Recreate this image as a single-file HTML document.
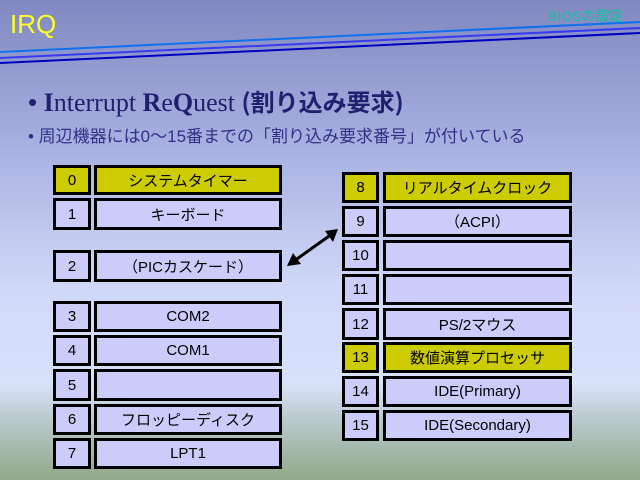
<!DOCTYPE html>
<html><head><meta charset="utf-8"><style>
body{margin:0;width:640px;height:480px;overflow:hidden;position:relative;font-family:"Liberation Sans","Noto Sans CJK JP",sans-serif;
background:linear-gradient(to bottom,#8088c0 0%,#a8b0e0 30%,#d0d8f8 60%,#d8e2fa 80%,#b8c8c8 88%,#90a888 100%);}
.t{position:absolute;white-space:nowrap}
.b{position:absolute;box-sizing:border-box;border:3px solid #000;background:#ccccfa;color:#000;font-size:15px;display:flex;align-items:center;justify-content:center}
.y{background:#cccc00}
</style></head><body>
<svg width="640" height="480" style="position:absolute;left:0;top:0">
<line x1="0" y1="52" x2="640" y2="22" stroke="#1070f0" stroke-width="2"/>
<line x1="0" y1="58" x2="640" y2="28" stroke="#3a3af0" stroke-width="2"/>
<line x1="0" y1="63" x2="640" y2="33" stroke="#0000c0" stroke-width="2"/>
<line x1="294" y1="261" x2="332" y2="234" stroke="#000" stroke-width="3"/>
<polygon points="287,266 293,253 301,264" fill="#000"/>
<polygon points="338,229 325,231 333,242" fill="#000"/>
</svg>
<div class="t" style="left:10px;top:9px;font-size:26px;color:#ffff20">IRQ</div>
<div class="t" style="left:548px;top:6px;font-size:14px;color:#10c0a0">BIOSの設定</div>
<div class="t" style="left:28px;top:83px;font-size:26px;color:#202070;font-family:'Liberation Serif','Noto Sans CJK JP',serif"><span style="font-family:'Liberation Sans'">•</span> <b>I</b>nterrupt <b>R</b>e<b>Q</b>uest <span style="font-family:'Noto Sans CJK JP';font-weight:bold;font-size:24px">(割り込み要求)</span></div>
<div class="t" style="left:28px;top:122px;font-size:17px;color:#303088">• 周辺機器には0～15番までの「割り込み要求番号」が付いている</div>

<div class="b y" style="left:53px;top:165px;width:38px;height:30px">0</div><div class="b y" style="left:94px;top:165px;width:188px;height:30px">システムタイマー</div>
<div class="b" style="left:53px;top:198px;width:38px;height:32px">1</div><div class="b" style="left:94px;top:198px;width:188px;height:32px">キーボード</div>
<div class="b" style="left:53px;top:250px;width:38px;height:32px">2</div><div class="b" style="left:94px;top:250px;width:188px;height:32px">（PICカスケード）</div>
<div class="b" style="left:53px;top:301px;width:38px;height:31px">3</div><div class="b" style="left:94px;top:301px;width:188px;height:31px">COM2</div>
<div class="b" style="left:53px;top:335px;width:38px;height:31px">4</div><div class="b" style="left:94px;top:335px;width:188px;height:31px">COM1</div>
<div class="b" style="left:53px;top:369px;width:38px;height:32px">5</div><div class="b" style="left:94px;top:369px;width:188px;height:32px"></div>
<div class="b" style="left:53px;top:404px;width:38px;height:31px">6</div><div class="b" style="left:94px;top:404px;width:188px;height:31px">フロッピーディスク</div>
<div class="b" style="left:53px;top:438px;width:38px;height:31px">7</div><div class="b" style="left:94px;top:438px;width:188px;height:31px">LPT1</div>

<div class="b y" style="left:342px;top:172px;width:37px;height:31px">8</div><div class="b y" style="left:383px;top:172px;width:189px;height:31px">リアルタイムクロック</div>
<div class="b" style="left:342px;top:206px;width:37px;height:31px">9</div><div class="b" style="left:383px;top:206px;width:189px;height:31px">（ACPI）</div>
<div class="b" style="left:342px;top:240px;width:37px;height:31px">10</div><div class="b" style="left:383px;top:240px;width:189px;height:31px"></div>
<div class="b" style="left:342px;top:274px;width:37px;height:31px">11</div><div class="b" style="left:383px;top:274px;width:189px;height:31px"></div>
<div class="b" style="left:342px;top:308px;width:37px;height:32px">12</div><div class="b" style="left:383px;top:308px;width:189px;height:32px">PS/2マウス</div>
<div class="b y" style="left:342px;top:342px;width:37px;height:31px">13</div><div class="b y" style="left:383px;top:342px;width:189px;height:31px">数値演算プロセッサ</div>
<div class="b" style="left:342px;top:376px;width:37px;height:31px">14</div><div class="b" style="left:383px;top:376px;width:189px;height:31px">IDE(Primary)</div>
<div class="b" style="left:342px;top:410px;width:37px;height:31px">15</div><div class="b" style="left:383px;top:410px;width:189px;height:31px">IDE(Secondary)</div>
</body></html>
